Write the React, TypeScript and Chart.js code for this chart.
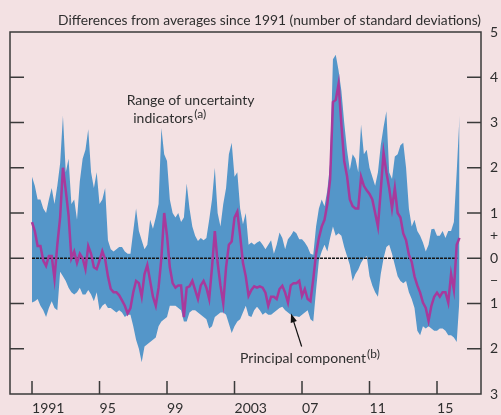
import React, { useEffect, useRef } from 'react';
import { Chart, registerables } from 'chart.js';

Chart.register(...registerables);

// ---- Data (bi-monthly observations starting January 1991) ----
const START_YEAR = 1991;
const PERIODS_PER_YEAR = 6;

const upperRange = [
  1.8, 1.6, 1.3, 1.3, 1.1, 1.0, 1.3, 1.55, 1.2, 1.6,
  2.1, 3.15, 1.9, 2.2, 1.2, 1.3, 0.85, 1.7, 2.2, 2.4,
  2.85, 1.9, 1.55, 1.9, 1.2, 1.3, 1.55, 0.4, 0.2, 0.15,
  0.2, 0.25, 0.25, 0.15, 0.1, 0.1, 0.6, 1.1, 0.6, 0.4,
  0.2, 0.3, 0.85, 0.65, 0.9, 1.2, 2.88, 2.3, 2.15, 1.3,
  1.0, 0.9, 1.0, 0.8, 0.9, 1.65, 1.1, 0.7, 0.5, 0.38,
  0.45, 0.4, 0.45, 0.85, 1.3, 2.0, 1.0, 0.7, 1.2, 1.55,
  2.3, 2.55, 1.8, 1.9, 1.1, 0.75, 1.0, 0.3, 0.35, 0.3,
  0.35, 0.38, 0.3, 0.2, 0.3, 0.4, 0.1, 0.3, 0.57, 0.45,
  0.2, 0.42, 0.5, 0.6, 0.55, 0.42, 0.42, 0.35, 0.25, 0.1,
  0.08, 0.7, 1.1, 1.3, 1.15, 1.5, 2.1, 4.4, 4.5, 4.15,
  3.7, 3.0, 2.4, 1.95, 2.3, 2.2, 1.9, 2.95, 2.3, 2.4,
  2.0, 1.8, 1.6, 1.9, 2.5, 2.9, 3.25, 1.9, 1.75, 2.25,
  2.3, 2.5, 2.55, 2.0, 1.1, 0.7, 0.85, 0.6, 0.5, 0.35,
  0.15, 0.3, 0.64, 0.65, 0.5, 0.5, 0.6, 0.45, 0.6, 0.6,
  0.8, 1.9, 3.15,
];

const lowerRange = [
  -0.98, -0.95, -0.9, -1.05, -1.15, -1.3, -1.1, -0.95, -1.1, -1.15,
  -0.3, -0.4, -0.5, -0.65, -0.75, -0.8, -0.75, -0.65, -0.8, -0.8,
  -0.7, -0.8, -0.95, -0.75, -1.15, -1.05, -1.0, -1.1, -1.1, -1.15,
  -1.2, -1.15, -1.2, -1.3, -1.25, -1.25, -1.5, -1.8, -2.0, -2.3,
  -1.95, -1.9, -1.85, -1.8, -1.75, -1.5, -1.4, -1.35, -1.3, -1.05,
  -1.05, -1.05, -1.1, -1.15, -1.4, -1.4, -1.2, -1.15, -1.15, -1.2,
  -1.25, -1.3, -1.35, -1.55, -1.5, -1.3, -1.25, -1.2, -1.2, -1.25,
  -1.45, -1.65, -1.5, -1.4, -1.35, -1.2, -1.05, -1.27, -1.3, -1.15,
  -1.07, -1.15, -1.25, -1.2, -1.25, -1.25, -1.2, -1.15, -1.1, -1.07,
  -1.15, -1.2, -1.25, -1.28, -1.28, -1.3, -1.25, -1.2, -1.15, -1.35,
  -1.4, -0.7, -0.05, 0.15, 0.3, 0.15, 0.45, 0.7, 0.5, 0.55,
  0.5, 0.25, 0.05, -0.15, -0.5, -0.35, -0.25, -0.1, 0.0, 0.05,
  -0.4, -0.6, -0.75, -0.85, -0.35, 0.0, 0.25, 0.3, 0.1, -0.15,
  -0.4, -0.5, -0.55, -0.5, -0.75, -0.9, -1.1, -1.6, -1.7, -1.5,
  -1.55, -1.5, -1.55, -1.6, -1.6, -1.55, -1.55, -1.6, -1.7, -1.7,
  -1.75, -1.85, -0.9,
];

const principalComponent = [
  0.8, 0.6, 0.27, 0.27, -0.05, -0.17, 0.05, 0.05, -0.45, 0.3,
  0.9, 2.0, 1.5, 0.95, 0.0, 0.15, -0.1, 0.1, 0.0, -0.24,
  0.27, 0.1, -0.2, -0.24, -0.05, 0.16, -0.02, -0.4, -0.68, -0.75,
  -0.75, -0.82, -0.93, -1.05, -1.22, -1.1, -0.75, -0.5, -0.55, -0.85,
  -0.35, -0.15, -0.5, -0.85, -1.05, -0.65, 0.0, 1.0, 0.5, -0.2,
  -0.55, -0.65, -0.6, -0.6, -1.3, -0.65, -0.62, -0.5, -0.7, -0.9,
  -0.6, -0.5, -0.65, -0.9, -0.2, 0.6, -0.1, -0.6, -1.0, -0.2,
  0.3, 0.37, 0.9, 1.03, 0.5, -0.1, -0.4, -0.83, -0.7, -0.62,
  -0.65, -0.62, -0.65, -0.76, -1.05, -0.85, -0.85, -0.9, -0.68, -0.61,
  -0.76, -0.98, -0.6, -0.55, -0.55, -0.5, -0.83, -0.68, -0.9, -0.95,
  -0.46, 0.1, 0.45, 0.7, 0.85, 1.2, 1.75, 3.45, 3.5, 3.85,
  2.95, 2.15, 1.82, 1.3, 1.15, 1.1, 1.1, 1.8, 1.6, 1.5,
  1.42, 1.3, 1.0, 0.7, 1.5, 2.33, 1.9, 1.55, 1.1, 1.55,
  1.0, 0.9, 0.55, 0.4, 0.08, -0.08, -0.4, -0.6, -0.76, -0.98,
  -1.1, -1.38, -1.05, -0.85, -0.76, -0.85, -0.75, -0.75, -0.98, -0.35,
  -0.7, 0.3, 0.45,
];

const zeroLineYears = [1991, 2016.2];
const zeroLineValues = [0, 0];

const xTickYears = [1991, 1995, 1999, 2003, 2007, 2011, 2015];
const xTickLabels = ['1991', '95', '99', '2003', '07', '11', '15'];
const yTickValues = [-3, -2, -1, -0.5, 0, 0.5, 1, 2, 3, 4, 5];
const yTickLabels = ['3', '2', '1', '\u2212', '0', '+', '1', '2', '3', '4', '5'];
const frameTickValues = [-2, -1, 0, 1, 2, 3, 4];

const TITLE = 'Differences from averages since 1991 (number of standard deviations)';

// ---- Styling ----
const W = 501;
const H = 415;
const BG = '#f3e1e3';
const BLUE = '#5496c9';
const MAGENTA = '#a8399c';
const AXIS = '#3a3a3a';
const TEXT = '#2e2e2e';
const FONT = 'Lato, "Open Sans", sans-serif';
const X_MIN = 1989.696;
const X_MAX = 2017.607;

const years = upperRange.map((_, i) => START_YEAR + i / PERIODS_PER_YEAR);
const toPoints = (vals: number[]) => vals.map((v, i) => ({ x: years[i], y: v }));

function drawWithSup(ctx: CanvasRenderingContext2D, text: string, sup: string, x: number, y: number) {
  ctx.font = `14px ${FONT}`;
  ctx.textAlign = 'left';
  ctx.textBaseline = 'alphabetic';
  ctx.fillText(text, x, y);
  const w = ctx.measureText(text).width;
  ctx.font = `12px ${FONT}`;
  ctx.fillText(sup, x + w + 1, y - 5);
}

const decorPlugin = {
  id: 'decor',
  beforeDraw(chart: any) {
    const { ctx } = chart;
    ctx.save();
    ctx.fillStyle = BG;
    ctx.fillRect(0, 0, chart.width, chart.height);
    ctx.restore();
  },
  afterDraw(chart: any) {
    const { ctx, chartArea: a, scales } = chart;
    const xs = scales.x;
    const ys = scales.y;
    ctx.save();
    ctx.strokeStyle = AXIS;
    ctx.lineWidth = 1.5;
    ctx.strokeRect(a.left, a.top, a.right - a.left, a.bottom - a.top);
    const TL = 14;
    ctx.beginPath();
    for (const v of frameTickValues) {
      const py = ys.getPixelForValue(v);
      ctx.moveTo(a.left, py);
      ctx.lineTo(a.left + TL, py);
      ctx.moveTo(a.right - TL, py);
      ctx.lineTo(a.right, py);
    }
    for (const yr of xTickYears) {
      const px = xs.getPixelForValue(yr);
      ctx.moveTo(px, a.bottom);
      ctx.lineTo(px, a.bottom - 13);
    }
    ctx.stroke();

    // Title
    ctx.fillStyle = TEXT;
    ctx.font = `13.8px ${FONT}`;
    ctx.textAlign = 'right';
    ctx.textBaseline = 'alphabetic';
    ctx.fillText(TITLE, a.right, a.top - 7);

    // Annotations anchored in data coordinates
    ctx.font = `14px ${FONT}`;
    ctx.textAlign = 'left';
    ctx.fillText('Range of uncertainty', xs.getPixelForValue(1996.61), ys.getPixelForValue(3.39));
    drawWithSup(ctx, 'indicators', '(a)', xs.getPixelForValue(1997.0), ys.getPixelForValue(2.99));
    drawWithSup(ctx, 'Principal component', '(b)', xs.getPixelForValue(2003.33), ys.getPixelForValue(-2.31));

    // Arrow
    const tx = xs.getPixelForValue(2006.98);
    const ty = ys.getPixelForValue(-1.95);
    const hx = xs.getPixelForValue(2006.35);
    const hy = ys.getPixelForValue(-1.22);
    const ang = Math.atan2(hy - ty, hx - tx);
    ctx.strokeStyle = '#111';
    ctx.lineWidth = 1.2;
    ctx.beginPath();
    ctx.moveTo(tx, ty);
    ctx.lineTo(hx - 6 * Math.cos(ang), hy - 6 * Math.sin(ang));
    ctx.stroke();
    ctx.fillStyle = '#111';
    ctx.beginPath();
    ctx.moveTo(hx, hy);
    ctx.lineTo(hx - 9 * Math.cos(ang) + 3.2 * Math.sin(ang), hy - 9 * Math.sin(ang) - 3.2 * Math.cos(ang));
    ctx.lineTo(hx - 9 * Math.cos(ang) - 3.2 * Math.sin(ang), hy - 9 * Math.sin(ang) + 3.2 * Math.cos(ang));
    ctx.closePath();
    ctx.fill();
    ctx.restore();
  },
};

export default function App() {
  const canvasRef = useRef<HTMLCanvasElement | null>(null);

  useEffect(() => {
    if (!canvasRef.current) return;
    const chart = new Chart(canvasRef.current, {
      type: 'line',
      data: {
        datasets: [
          {
            label: 'Upper',
            data: toPoints(upperRange),
            borderWidth: 0,
            borderColor: BLUE,
            backgroundColor: BLUE,
            pointRadius: 0,
            fill: '+1',
            order: 3,
          },
          {
            label: 'Lower',
            data: toPoints(lowerRange),
            borderWidth: 0,
            borderColor: BLUE,
            pointRadius: 0,
            fill: false,
            order: 3,
          },
          {
            label: 'Zero',
            data: zeroLineYears.map((x, i) => ({ x, y: zeroLineValues[i] })),
            borderColor: '#151515',
            borderWidth: 1.3,
            borderDash: [3, 1],
            pointRadius: 0,
            fill: false,
            order: 1,
          },
          {
            label: 'Principal component',
            data: toPoints(principalComponent),
            borderColor: MAGENTA,
            borderWidth: 2.5,
            pointRadius: 0,
            fill: false,
            order: 0,
          },
        ],
      },
      options: {
        animation: false,
        responsive: false,
        maintainAspectRatio: false,
        layout: { padding: { left: 10, top: 32, right: 0, bottom: 0 } },
        plugins: { legend: { display: false }, tooltip: { enabled: false } },
        elements: { line: { tension: 0 } },
        scales: {
          x: {
            type: 'linear',
            position: 'bottom',
            min: X_MIN,
            max: X_MAX,
            grid: { display: false, drawTicks: false },
            border: { display: false },
            afterBuildTicks: (s: any) => {
              s.ticks = xTickYears.map((v) => ({ value: v }));
            },
            afterFit: (s: any) => {
              s.height = 21;
            },
            ticks: {
              autoSkip: false,
              maxRotation: 0,
              minRotation: 0,
              align: 'start',
              padding: 6,
              color: TEXT,
              font: { family: FONT, size: 14 },
              callback: (_v: any, i: number) => xTickLabels[i],
            },
          },
          y: {
            type: 'linear',
            position: 'right',
            min: -3,
            max: 5,
            grid: { display: false, drawTicks: false },
            border: { display: false },
            afterBuildTicks: (s: any) => {
              s.ticks = yTickValues.map((v) => ({ value: v }));
            },
            afterFit: (s: any) => {
              s.width = 20;
            },
            ticks: {
              autoSkip: false,
              padding: 9,
              color: TEXT,
              font: { family: FONT, size: 14 },
              callback: (_v: any, i: number) => yTickLabels[i],
            },
          },
        },
      },
      plugins: [decorPlugin],
    } as any);
    return () => chart.destroy();
  }, []);

  return (
    <div style={{ position: 'absolute', left: 0, top: 0, width: W, height: H, background: BG }}>
      <canvas ref={canvasRef} width={W} height={H} style={{ display: 'block', width: W, height: H }} />
    </div>
  );
}
